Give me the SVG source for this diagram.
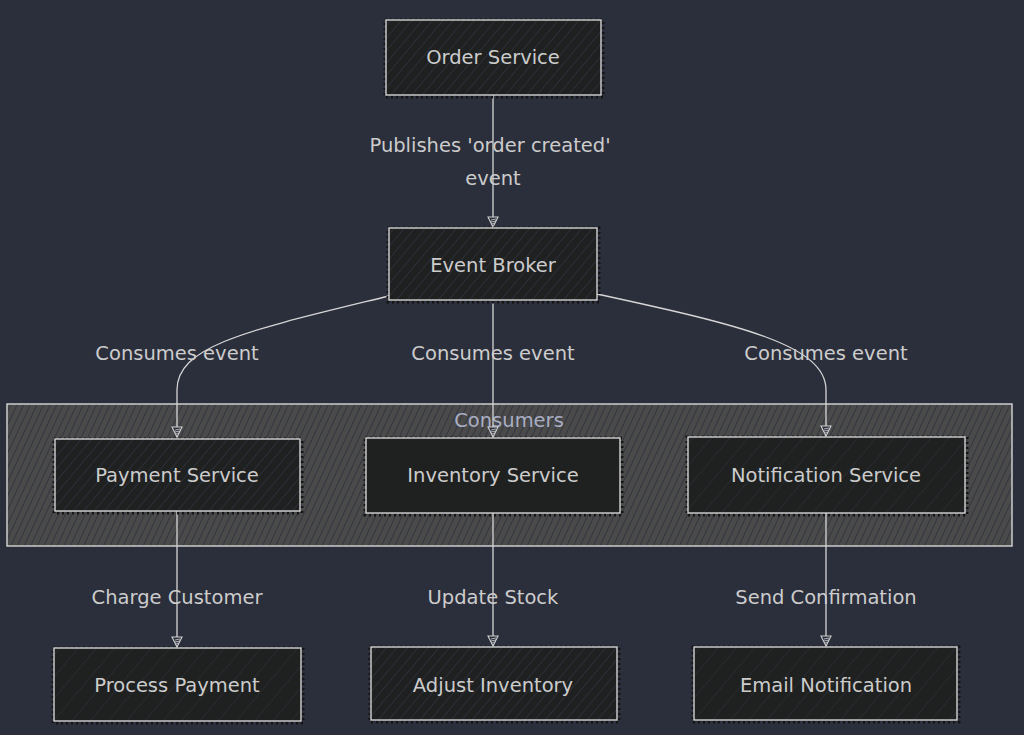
<svg xmlns="http://www.w3.org/2000/svg" width="1024" height="735" viewBox="0 0 1024 735">
<defs>
<pattern id="hatchNode" patternUnits="userSpaceOnUse" width="8" height="8" patternTransform="rotate(40)">
<rect width="8" height="8" fill="#1f2020"/>
<line x1="0" y1="0" x2="0" y2="8" stroke="#363a4b" stroke-width="1.1"/>
</pattern>
<pattern id="hatchNodeLight" patternUnits="userSpaceOnUse" width="14" height="14" patternTransform="rotate(40)">
<rect width="14" height="14" fill="#1f2020"/>
<line x1="0" y1="0" x2="0" y2="14" stroke="#30333f" stroke-width="1"/>
</pattern>
<pattern id="hatchCluster" patternUnits="userSpaceOnUse" width="6" height="6" patternTransform="rotate(25)">
<rect width="6" height="6" fill="#4a4a4a"/>
<line x1="0" y1="0" x2="0" y2="6" stroke="#2d313d" stroke-width="1.6"/>
</pattern>
<marker id="arr" markerWidth="14" markerHeight="14" refX="11" refY="6" orient="auto" markerUnits="userSpaceOnUse" viewBox="0 0 14 12">
<path d="M1,1 L1,11 L11,6 Z" fill="#2b2e3b" stroke="#d0d0d0" stroke-width="1.1"/>
<path d="M3,3 L4,8 M5,3 L6,8 M7,4.5 L8,7" stroke="#d0d0d0" stroke-width="0.8"/>
</marker>
</defs>
<style>
.bg{fill:#2b2e3b}
.node rect.shadow{fill:none;stroke:#141414;stroke-width:3;stroke-dasharray:2 3}
.node rect.box{stroke:#d3d3d3;stroke-width:1.4}
.lbl{font-family:"DejaVu Sans","Noto Sans",sans-serif;font-size:19.5px;fill:#cccccc;text-anchor:middle;dominant-baseline:central}
.elbl{font-family:"DejaVu Sans","Noto Sans",sans-serif;font-size:19.5px;fill:#cccccc;text-anchor:middle;dominant-baseline:central}
.edge{fill:none;stroke:#d6d6d6;stroke-width:1.3}
.cl{stroke:#d8d8d8;stroke-width:1.4}
.cltxt{font-family:"DejaVu Sans","Noto Sans",sans-serif;font-size:19.5px;fill:#a9aec4;text-anchor:middle;dominant-baseline:central}
</style>
<rect class="bg" x="0" y="0" width="1024" height="735"/>

<g id="cluster-consumers">
<rect class="cl" x="7" y="404" width="1005" height="142" fill="url(#hatchCluster)"/>
<text class="cltxt" x="509" y="420">Consumers</text>
</g>

<g id="edges">
<path class="edge" d="M493,95 L493,227" marker-end="url(#arr)"/>
<path class="edge" d="M389,296 C250,330 177,345 177,390 L177,437" marker-end="url(#arr)"/>
<path class="edge" d="M493,300 L493,437" marker-end="url(#arr)"/>
<path class="edge" d="M597,294 C740,325 826,345 826,390 L826,436" marker-end="url(#arr)"/>
<path class="edge" d="M177,511 L177,647" marker-end="url(#arr)"/>
<path class="edge" d="M493,513 L493,646" marker-end="url(#arr)"/>
<path class="edge" d="M826,513 L826,646" marker-end="url(#arr)"/>
<text class="elbl" x="490" y="145">Publishes 'order created'</text>
<text class="elbl" x="493" y="178">event</text>
<text class="elbl" x="177" y="353">Consumes event</text>
<text class="elbl" x="493" y="353">Consumes event</text>
<text class="elbl" x="826" y="353">Consumes event</text>
<text class="elbl" x="177" y="597">Charge Customer</text>
<text class="elbl" x="493" y="597">Update Stock</text>
<text class="elbl" x="826" y="597">Send Confirmation</text>
</g>

<g id="node-order-service" class="node">
<rect class="shadow" x="385" y="20" width="218" height="77"/>
<rect class="box" x="386" y="20" width="215" height="75" fill="url(#hatchNode)"/>
<text class="lbl" x="493" y="57">Order Service</text>
</g>

<g id="node-event-broker" class="node">
<rect class="shadow" x="388" y="228" width="211" height="74"/>
<rect class="box" x="389" y="228" width="208" height="72" fill="url(#hatchNode)"/>
<text class="lbl" x="493" y="265">Event Broker</text>
</g>

<g id="node-payment-service" class="node">
<rect class="shadow" x="54" y="439" width="248" height="74"/>
<rect class="box" x="55" y="439" width="245" height="72" fill="url(#hatchNode)"/>
<text class="lbl" x="177" y="475">Payment Service</text>
</g>

<g id="node-inventory-service" class="node">
<rect class="shadow" x="365" y="438" width="257" height="77"/>
<rect class="box" x="366" y="438" width="254" height="75" fill="#1f2020"/>
<text class="lbl" x="493" y="475">Inventory Service</text>
</g>

<g id="node-notification-service" class="node">
<rect class="shadow" x="687" y="437" width="280" height="78"/>
<rect class="box" x="688" y="437" width="277" height="76" fill="url(#hatchNodeLight)"/>
<text class="lbl" x="826" y="475">Notification Service</text>
</g>

<g id="node-process-payment" class="node">
<rect class="shadow" x="53" y="648" width="250" height="75"/>
<rect class="box" x="54" y="648" width="247" height="73" fill="url(#hatchNodeLight)"/>
<text class="lbl" x="177" y="685">Process Payment</text>
</g>

<g id="node-adjust-inventory" class="node">
<rect class="shadow" x="370" y="647" width="249" height="75"/>
<rect class="box" x="371" y="647" width="246" height="73" fill="url(#hatchNode)"/>
<text class="lbl" x="493" y="685">Adjust Inventory</text>
</g>

<g id="node-email-notification" class="node">
<rect class="shadow" x="693" y="647" width="266" height="75"/>
<rect class="box" x="694" y="647" width="263" height="73" fill="url(#hatchNodeLight)"/>
<text class="lbl" x="826" y="685">Email Notification</text>
</g>
</svg>
